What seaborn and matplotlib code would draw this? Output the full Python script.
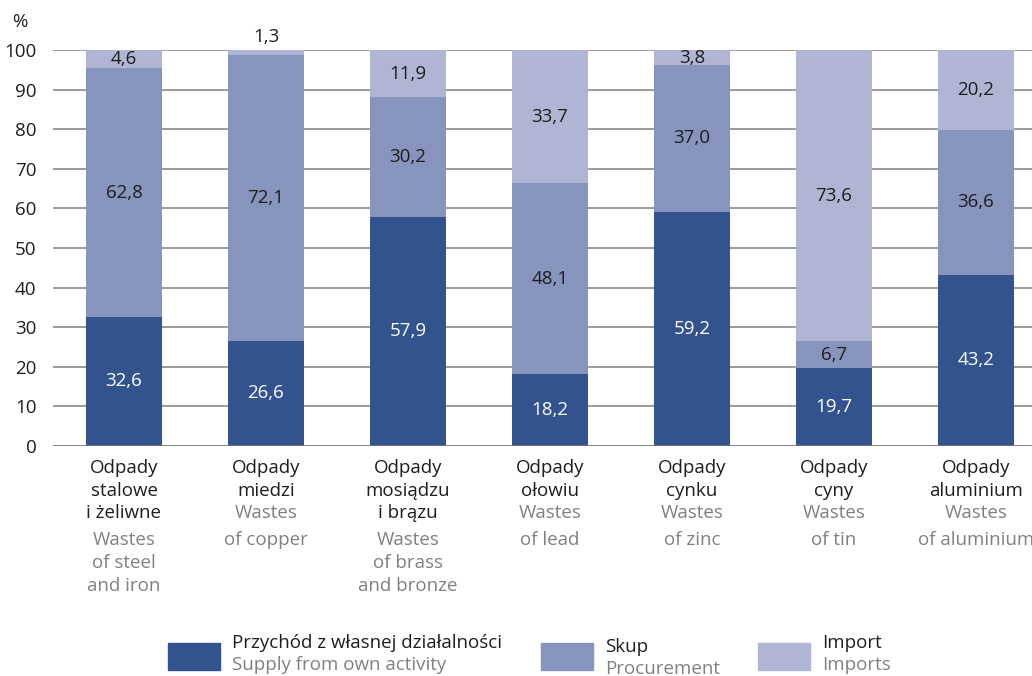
import matplotlib.pyplot as plt
import seaborn as sns
import pandas as pd
import numpy as np
from matplotlib.patches import Rectangle

# data (%)
cats_pl = ['Odpady\nstalowe\ni żeliwne', 'Odpady\nmiedzi', 'Odpady\nmosiądzu\ni brązu',
           'Odpady\nołowiu', 'Odpady\ncynku', 'Odpady\ncyny', 'Odpady\naluminium']
cats_en = ['Wastes\nof steel\nand iron', 'Wastes\nof copper', 'Wastes\nof brass\nand bronze',
           'Wastes\nof lead', 'Wastes\nof zinc', 'Wastes\nof tin', 'Wastes\nof aluminium']
own = [32.6, 26.6, 57.9, 18.2, 59.2, 19.7, 43.2]
skup = [62.8, 72.1, 30.2, 48.1, 37.0, 6.7, 36.6]
imp = [4.6, 1.3, 11.9, 33.7, 3.8, 73.6, 20.2]

c_dark = '#33538f'
c_mid = '#8794bd'
c_light = '#b0b5d3'
grey_txt = '#808080'
fs = 13.5

sns.set_style('white')
plt.rcParams['font.family'] = ['Open Sans', 'DejaVu Sans']

df = pd.DataFrame({'cat': range(7), 'own': own, 'skup': skup, 'imp': imp})
df['b2'] = df['own']
df['b3'] = df['own'] + df['skup']

fig = plt.figure(figsize=(10.32, 6.76), dpi=100)
ax = fig.add_axes([53 / 1032, 230 / 676, 1 - 53 / 1032, 396 / 676])

w = 0.535
kw = dict(width=w, saturation=1, ax=ax, zorder=3, linewidth=0)
sns.barplot(data=df, x='cat', y='own', color=c_dark, **kw)
sns.barplot(data=df, x='cat', y='skup', bottom=df['b2'], color=c_mid, **kw)
sns.barplot(data=df, x='cat', y='imp', bottom=df['b3'], color=c_light, **kw)

ax.set_xlim(-0.5, 6.5 - (1047 - 1032) / 142)
ax.set_ylim(0, 100)
ax.set_yticks(range(0, 101, 10))
ax.tick_params(axis='y', length=0, labelsize=fs, pad=12, colors='#1e1e1e')
ax.set_xticks([])
ax.set_xlabel('')
ax.set_ylabel('')
for s in ax.spines.values():
    s.set_visible(False)
ax.grid(axis='y', color='#8a8a8a', linewidth=1.2, zorder=0)
ax.axhline(0, color='#7a7a7a', linewidth=1.8, zorder=4)
fig.text(20 / 1032, 1 - 22 / 676, '%', ha='center', va='center', fontsize=fs, color='#1e1e1e')

# value labels
def fmt(v):
    return f'{v:.1f}'.replace('.', ',')

for i in range(7):
    ax.text(i, own[i] / 2, fmt(own[i]), ha='center', va='center', color='white', fontsize=fs, zorder=5)
    ax.text(i, own[i] + skup[i] / 2, fmt(skup[i]), ha='center', va='center', color='#1e1e1e',
            fontsize=fs, zorder=5)
    if imp[i] < 3:
        ax.text(i, 100 + 1, fmt(imp[i]), ha='center', va='bottom', color='#1e1e1e', fontsize=fs,
                zorder=5, clip_on=False)
    else:
        ax.text(i, 100 - imp[i] / 2, fmt(imp[i]), ha='center', va='center', color='#1e1e1e',
                fontsize=fs, zorder=5)

# category labels, Polish in black, English in grey
line_y = [468, 490.5, 513, 540, 563, 586]
for i in range(7):
    xf = (53 + 71 + 142 * i) / 1032
    lines = [(t, '#1e1e1e') for t in cats_pl[i].split('\n')] + \
            [(t, grey_txt) for t in cats_en[i].split('\n')]
    for k, (t, c) in enumerate(lines):
        fig.text(xf, 1 - line_y[k] / 676, t, ha='center', va='center', fontsize=fs, color=c)

# legend drawn by hand
leg = [(168, c_dark, 'Przychód z własnej działalności', 'Supply from own activity', 0),
       (541, c_mid, 'Skup', 'Procurement', 4),
       (758, c_light, 'Import', 'Imports', 0)]
for x, c, t1, t2, dy in leg:
    fig.patches.append(Rectangle((x / 1032, 1 - 670 / 676), 52 / 1032, 27 / 676, color=c,
                                 transform=fig.transFigure, figure=fig))
    fig.text((x + 64) / 1032, 1 - (643 + dy) / 676, t1, ha='left', va='center', fontsize=fs, color='#1e1e1e')
    fig.text((x + 64) / 1032, 1 - (665 + dy) / 676, t2, ha='left', va='center', fontsize=fs, color=grey_txt)

fig.savefig('out.png', dpi=100)
